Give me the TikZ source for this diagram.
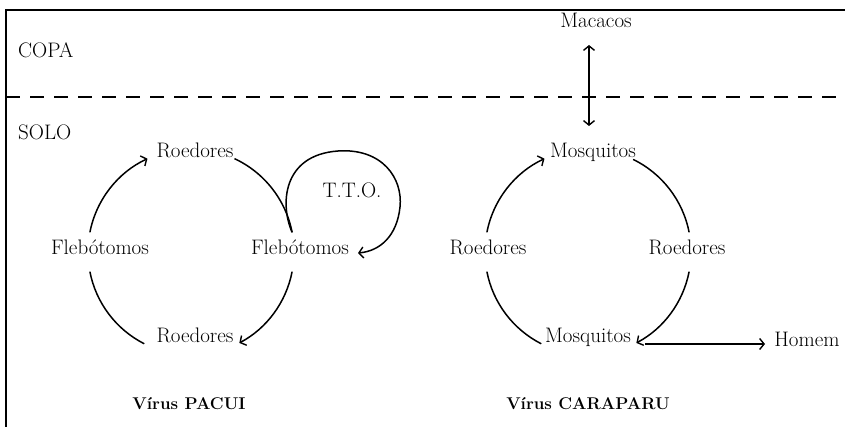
\documentclass[tikz,border=0pt]{standalone}
\usepackage{fontspec}
\usetikzlibrary{arrows.meta,calc}
\begin{document}
\begin{tikzpicture}[x=1pt,y=-1pt,
  lbl/.style={font=\fontsize{21}{24}\selectfont, inner sep=0pt, text height=1.5ex, text depth=.25ex},
  ttl/.style={font=\fontsize{17}{20}\selectfont\bfseries, inner sep=0pt},
  cyc/.style={line width=1.5pt},
  tip/.style={-{Straight Barb[length=4.5pt,width=11pt,line width=1.4pt]}},
  dtip/.style={{Straight Barb[length=4.5pt,width=11pt,line width=1.4pt]}-{Straight Barb[length=4.5pt,width=11pt,line width=1.4pt]}}
]
\useasboundingbox (0,0) rectangle (845,427);
% frame
\draw[line width=1.3pt] (6,427) -- (6,10) -- (845,10);
\draw[line width=1.5pt, dash pattern=on 14pt off 10pt] (6,97) -- (845,97);
\node[lbl, anchor=west] (copa) at (18,55) {COPA};
\node[lbl, anchor=west] (solo) at (18,137) {SOLO};

% ---------- PACUI ----------
\coordinate (C1) at (191,252);
\node[lbl] (rT1) at (195,155) {Roedores};
\node[lbl] (fL1) at (100,252) {Flebótomos};
\node[lbl] (fR1) at (300,252) {Flebótomos};
\node[lbl] (rB1) at (195,340) {Roedores};
\node[lbl] (tto) at (352,195) {T.T.O.};
\coordinate (a1) at ($(C1)+(191:103)$);
\coordinate (b1) at ($(C1)+(295:103)$);
\coordinate (c1) at ($(C1)+(11:103)$);
\coordinate (d1) at ($(C1)+(169:103)$);
\coordinate (e1) at ($(C1)+(349:103)$);
\draw[cyc,tip] (a1) arc[start angle=191, end angle=245, radius=103];
\draw[cyc] (b1) arc[start angle=295, end angle=349, radius=103];
\draw[cyc,tip] (c1) arc[start angle=11, end angle=62, radius=103];
\draw[cyc] (d1) arc[start angle=169, end angle=117, radius=103];
\coordinate (loopEnd) at (358,253);
\draw[cyc,tip] (e1) .. controls (280,205) and (282,155) .. (338,151)
  .. controls (382,148) and (403,178) .. (400,207)
  .. controls (397,236) and (380,251) .. (loopEnd);

% ---------- CARAPARU ----------
\coordinate (C2) at (588,252);
\node[lbl] (mT2) at (593,155) {Mosquitos};
\node[lbl] (rL2) at (488,252) {Roedores};
\node[lbl] (rR2) at (687,252) {Roedores};
\node[lbl] (mB2) at (588,340) {Mosquitos};
\node[lbl] (hom) at (807,344) {Homem};
\node[lbl] (mac) at (596,25) {Macacos};
\coordinate (a2) at ($(C2)+(191:103)$);
\coordinate (b2) at ($(C2)+(296:103)$);
\coordinate (c2) at ($(C2)+(11:103)$);
\coordinate (d2) at ($(C2)+(169:103)$);
\draw[cyc,tip] (a2) arc[start angle=191, end angle=245, radius=103];
\draw[cyc] (b2) arc[start angle=296, end angle=349, radius=103];
\draw[cyc,tip] (c2) arc[start angle=11, end angle=62, radius=103];
\draw[cyc] (d2) arc[start angle=169, end angle=117, radius=103];
\coordinate (upT) at (589,45);
\coordinate (upB) at (589,126);
\draw[line width=1.4pt,dtip] (upT) -- (upB);
\coordinate (hS) at (645,344);
\coordinate (hE) at (765,344);
\draw[line width=1.4pt,tip] (hS) -- (hE);

% titles
\node[ttl] (t1) at (189,404) {Vírus PACUI};
\node[ttl] (t2) at (588,404) {Vírus CARAPARU};
\end{tikzpicture}
\end{document}
